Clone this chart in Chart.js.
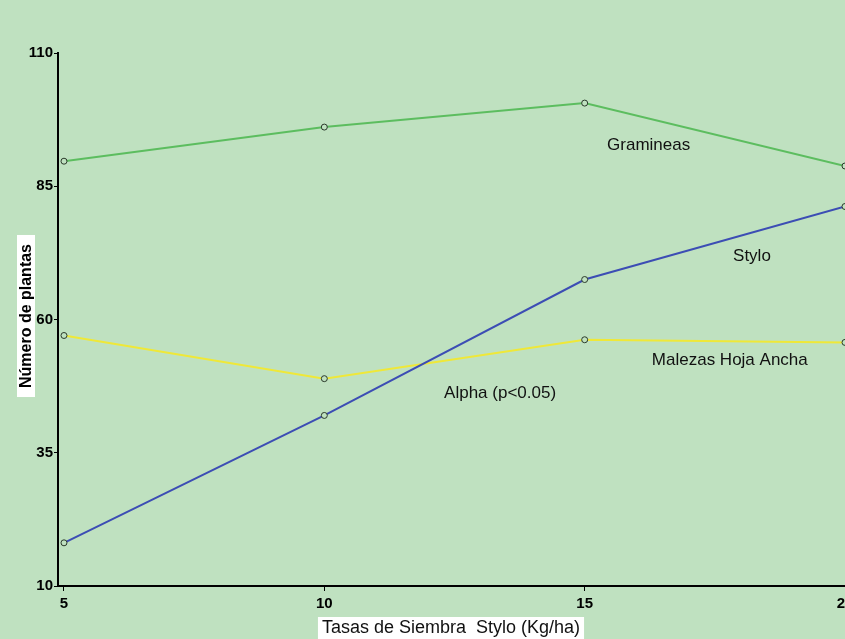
<!DOCTYPE html>
<html>
<head>
<meta charset="utf-8">
<script src="https://cdn.jsdelivr.net/npm/chart.js@4/dist/chart.umd.min.js"></script>
<style>
  html, body { margin: 0; padding: 0; background: #bfe1c0; overflow: hidden; }
  #wrap { width: 850px; height: 639px; position: relative; }
</style>
</head>
<body>
<div id="wrap"><canvas id="chart"></canvas></div>
<script>
const tasas = [5, 10, 15, 20];
const gramineas = [89.7, 96.1, 100.6, 88.8];
const stylo = [18.1, 42.0, 67.5, 81.2];
const malezas = [57.0, 48.9, 56.2, 55.7];
const yTicks = [10, 35, 60, 85, 110];

// etiquetas dentro del grafico: [texto, x, y] en unidades de datos
const notas = [
    ['Gramineas', 15.43, 92.7],
    ['Stylo', 17.85, 71.8],
    ['Malezas Hoja Ancha', 16.29, 52.3],
    ['Alpha (p<0.05)', 12.3, 46.1]
];

const tickFont = { family: "'Liberation Sans', Arial, sans-serif", size: 15, weight: 'bold' };

const toPoints = (vals) => vals.map((v, i) => ({ x: tasas[i], y: v }));

const serie = (label, vals, color) => ({
    label: label,
    data: toPoints(vals),
    borderColor: color,
    borderWidth: 2,
    pointRadius: 3,
    pointBorderWidth: 1,
    pointBorderColor: '#2b3a2b',
    pointBackgroundColor: '#bfe1c0',
    tension: 0
});

const extras = {
    id: 'extras',
    beforeDraw(chart) {
        const ctx = chart.ctx;
        ctx.save();
        ctx.fillStyle = '#bfe1c0';
        ctx.fillRect(0, 0, chart.width, chart.height);
        ctx.restore();
    },
    afterDraw(chart) {
        const ctx = chart.ctx;
        const xs = chart.scales.x;
        const ys = chart.scales.y;
        ctx.save();

        // notas de las series
        ctx.font = "17px 'Liberation Sans', Arial, sans-serif";
        ctx.fillStyle = '#111';
        ctx.textBaseline = 'middle';
        ctx.textAlign = 'left';
        notas.forEach(([txt, x, y]) => {
            ctx.fillText(txt, xs.getPixelForValue(x), ys.getPixelForValue(y));
        });

        // titulo eje x con fondo blanco
        const xt = 'Tasas de Siembra  Stylo (Kg/ha)';
        ctx.font = "18px 'Liberation Sans', Arial, sans-serif";
        const wx = ctx.measureText(xt).width;
        const cx = 451, cy = 628;
        ctx.fillStyle = '#fff';
        ctx.fillRect(cx - wx / 2 - 4, cy - 11, wx + 8, 24);
        ctx.fillStyle = '#111';
        ctx.textAlign = 'center';
        ctx.fillText(xt, cx, cy);

        // titulo eje y
        const yt = 'Número de plantas';
        ctx.font = "bold 16px 'Liberation Sans', Arial, sans-serif";
        const wy = ctx.measureText(yt).width;
        const ty = 316;
        ctx.translate(26, ty);
        ctx.rotate(-Math.PI / 2);
        ctx.fillStyle = '#fff';
        ctx.fillRect(-wy / 2 - 9, -9, wy + 18, 18);
        ctx.fillStyle = '#000';
        ctx.fillText(yt, 0, 1);
        ctx.restore();
    }
};

new Chart(document.getElementById('chart'), {
    type: 'line',
    data: {
        datasets: [
            serie('Gramineas', gramineas, '#5cbd5f'),
            serie('Stylo', stylo, '#3c4db4'),
            serie('Malezas Hoja Ancha', malezas, '#efe838')
        ]
    },
    options: {
        responsive: true,
        maintainAspectRatio: false,
        animation: false,
        layout: { padding: { top: 53, left: 0, right: 0, bottom: 0 } },
        plugins: {
            legend: { display: false },
            tooltip: { enabled: false }
        },
        scales: {
            x: {
                type: 'linear',
                min: 4.885,
                max: 20,
                afterBuildTicks: (scale) => { scale.ticks = tasas.map(v => ({ value: v })); },
                afterFit: (scale) => { scale.paddingLeft = 0; scale.paddingRight = 0; scale.height = 53; },
                ticks: { color: '#000', font: tickFont, padding: 4, maxRotation: 0 },
                grid: { display: true, drawOnChartArea: false, drawTicks: true, tickLength: 5, color: '#000' },
                border: { color: '#000', width: 2 }
            },
            y: {
                min: 10,
                max: 110,
                afterBuildTicks: (scale) => { scale.ticks = yTicks.map(v => ({ value: v })); },
                afterFit: (scale) => { scale.paddingTop = 0; scale.paddingBottom = 0; scale.width = 58; },
                ticks: { color: '#000', font: tickFont, padding: 1 },
                grid: { display: true, drawOnChartArea: false, drawTicks: true, tickLength: 4, color: '#000' },
                border: { color: '#000', width: 2 }
            }
        }
    },
    plugins: [extras]
});
</script>
</body>
</html>
